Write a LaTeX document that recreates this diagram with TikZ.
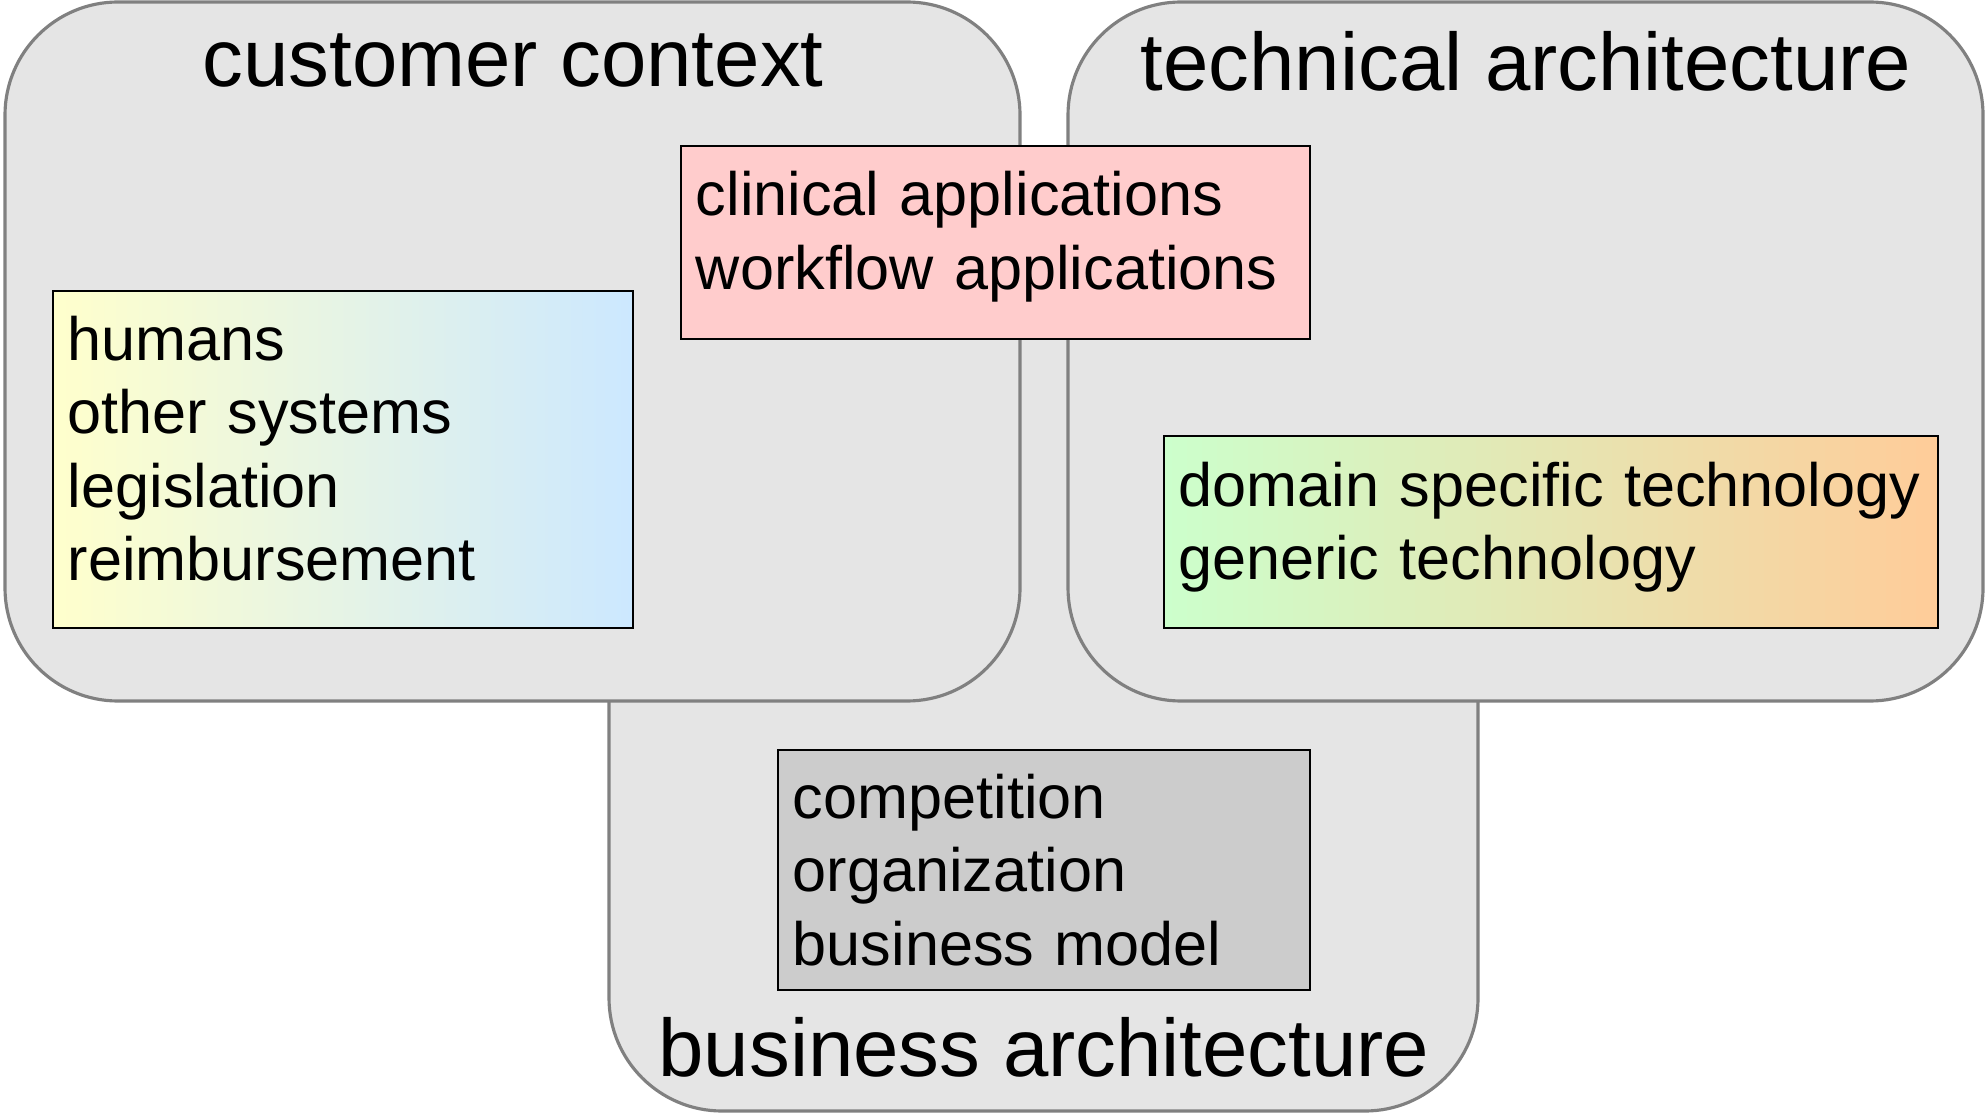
\documentclass[tikz,border=0pt]{standalone}
\usepackage{fontspec}
\setmainfont{Liberation Sans}
\definecolor{regiongray}{RGB}{229,229,229}
\definecolor{regionline}{RGB}{128,128,128}
\definecolor{appred}{RGB}{255,204,204}
\definecolor{bizgray}{RGB}{204,204,204}
\definecolor{ctxyellow}{RGB}{255,255,204}
\definecolor{ctxblue}{RGB}{204,232,255}
\definecolor{techgreen}{RGB}{204,255,204}
\definecolor{techorange}{RGB}{255,204,153}
\tikzset{
  region/.style={fill=regiongray, draw=regionline, line width=0.9pt, rounded corners=1.13cm},
  title/.style={font=\fontsize{23.2pt}{27pt}\selectfont},
  infobox/.style={draw=black, line width=0.7pt, align=left, inner xsep=0.15cm,
    font=\fontsize{17.4pt}{20.9pt}\selectfont},
  lift/.style={execute at end node={\par\vspace{#1}}}
}
\begin{document}
\begin{tikzpicture}[x=0.01cm,y=-0.01cm]
\useasboundingbox (0,0) rectangle (1986,1113);
\draw[region] (609,250) rectangle (1478,1111);
\draw[region] (5,2) rectangle (1020,701);
\draw[region] (1068,2) rectangle (1983,701);

\node[title] (custtitle) at (513,61) {customer context};
\node[title] (techtitle) at (1526,61) {technical architecture};
\node[title] (biztitle) at (1044,1047) {business architecture};

\node[infobox, lift=0.22cm, left color=ctxyellow, right color=ctxblue, minimum width=5.8cm, minimum height=3.37cm, text width=5.5cm] (context) at (343,459.5) {humans\\other systems\\legislation\\reimbursement};
\node[infobox, lift=0.12cm, fill=appred, minimum width=6.29cm, minimum height=1.93cm, text width=5.99cm] (apps) at (995.5,242.5) {clinical applications\\workflow applications};
\node[infobox, lift=0.1cm, left color=techgreen, right color=techorange, minimum width=7.74cm, minimum height=1.92cm, text width=7.44cm] (tech) at (1551,532) {domain specific technology\\generic technology};
\node[infobox, fill=bizgray, minimum width=5.32cm, minimum height=2.4cm, text width=5.02cm] (business) at (1044,870) {competition\\organization\\business model};
\end{tikzpicture}
\end{document}
